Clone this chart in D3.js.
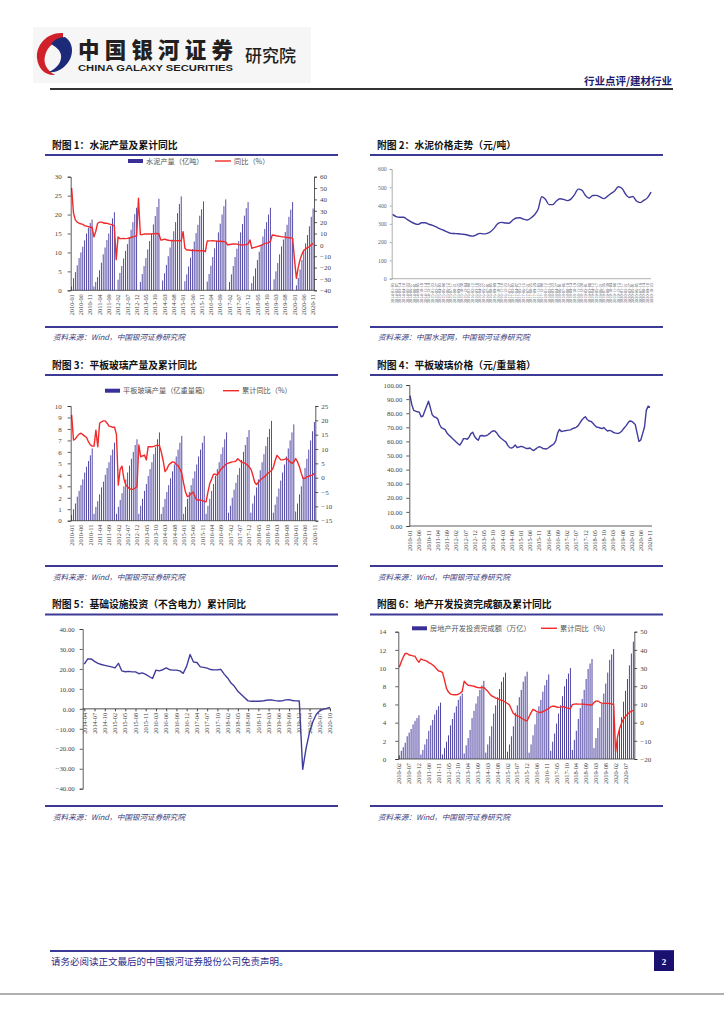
<!DOCTYPE html>
<html><head><meta charset="utf-8">
<script src="https://cdn.jsdelivr.net/npm/d3@7"></script>
<style>body{margin:0;background:#fff}svg{display:block}</style>
</head><body>
<svg id="page" width="724" height="1024"></svg>
<script>
// ---------------- DATA ----------------
const monthCodes = ["01","02","03","04","05","06","07","08","09","10","11","12"];
const monthCodesNoJan = ["02","03","04","05","06","07","08","09","10","11","12"];
const years1020 = [2010,2011,2012,2013,2014,2015,2016,2017,2018,2019,2020];
const years1420 = [2014,2015,2016,2017,2018,2019,2020];

// Chart 1: cement cumulative production (亿吨) & cumulative YoY (%), 2010-01 .. 2020-11
const cementProd = [
 1.0,3.2,4.8,6.6,8.5,10.0,11.5,13.2,15.0,16.5,17.8,18.7,
 1.0,2.2,3.5,5.3,7.3,9.5,11.3,13.3,15.0,17.0,19.0,20.6,
 null,2.8,4.6,6.4,8.4,10.4,12.2,14.0,16.0,18.0,20.1,21.8,
 null,2.2,4.3,6.4,8.5,10.8,13.0,15.0,17.4,19.6,22.0,24.2,
 null,2.6,4.5,6.7,9.0,11.3,13.4,15.6,18.0,20.4,22.8,24.8,
 null,2.4,4.2,6.3,8.6,10.9,12.9,15.1,17.3,19.7,21.4,23.5,
 null,2.3,4.3,6.5,8.8,11.1,13.1,15.3,17.6,20.0,22.2,24.0,
 null,2.2,4.2,6.4,8.8,11.0,13.0,15.3,17.5,19.7,21.7,23.3,
 null,1.9,3.7,5.8,8.0,10.2,12.1,14.2,16.2,18.0,20.0,21.8,
 null,2.9,5.0,7.2,9.5,11.6,13.4,15.4,17.3,19.4,21.3,23.3,
 null,1.3,3.3,5.5,8.0,10.5,12.4,14.6,16.9,19.4,21.6
];
const cementYoY = [
 50,28,22,20,19,18.5,18,17,16.5,16,15.5,15.5,
 7,12,19,20,20,19.5,19,19,18.5,18,17.5,16.6,
 -13,7,5.5,5.5,5.7,5.5,5.7,6,6.5,7,7.5,8,
 41,9,9,9.5,9.5,9.6,9.6,9.7,9.8,9.9,10,9.6,
 4.3,4.5,5,4.5,4,3.8,3.7,3.5,3.7,3.7,3.6,3.6,
 11.6,-3,-4.5,-4.5,-4.8,-5,-5,-5,-5.2,-5.2,-5.2,-5,
 -6,3.4,3.5,3.5,3.6,3.5,3.2,3.2,3.2,3.0,2.9,2.5,
 -0.1,0.3,0.5,0.7,0.8,0.6,0.2,0,-0.1,0,0.2,0.8,
 4.3,-3,-2.5,-2,-1.5,-1,-0.5,0.3,1.3,1.5,2,3,
 8.7,8.5,8,7.8,7.5,7.2,7,6.8,6.5,6.3,6.1,5.7,
 -13,-29.4,-20,-13,-8.3,-4.8,-3.6,-2.5,-1.7,0,1.3
];

// Chart 2: cement price (元/吨)
const priceDates = ["2014-01-03","2014-02-07","2014-03-14","2014-04-18","2014-05-23","2014-06-27","2014-08-01","2014-09-05","2014-10-10","2014-11-14","2014-12-19",
 "2015-01-23","2015-02-27","2015-04-03","2015-05-08","2015-06-12","2015-07-17","2015-08-21","2015-09-25","2015-10-30","2015-12-04",
 "2016-01-08","2016-02-12","2016-03-18","2016-04-22","2016-05-27","2016-07-01","2016-08-05","2016-09-09","2016-10-14","2016-11-18","2016-12-23",
 "2017-01-27","2017-03-03","2017-04-07","2017-05-12","2017-06-16","2017-07-21","2017-08-25","2017-09-29","2017-11-03","2017-12-08",
 "2018-01-12","2018-02-16","2018-03-23","2018-04-27","2018-06-01","2018-07-06","2018-08-10","2018-09-14","2018-10-19","2018-11-23","2018-12-28",
 "2019-02-01","2019-03-08","2019-04-12","2019-05-17","2019-06-21","2019-07-26","2019-08-30","2019-10-04","2019-11-08","2019-12-13",
 "2020-01-17","2020-02-21","2020-03-27","2020-05-01","2020-06-05","2020-07-10","2020-08-14","2020-09-18","2020-10-23"];
const cementPrice = [352,340,336,336,325,312,302,297,306,306,298,
 292,283,273,265,256,248,247,246,244,242,
 236,233,240,248,245,248,258,278,303,308,305,
 303,320,332,333,326,321,332,350,380,448,
 435,405,405,425,437,434,427,435,460,490,485,
 455,440,455,456,448,438,450,466,480,503,
 495,463,444,450,425,416,428,442,474];

// Chart 3: flat glass cumulative production (亿重量箱) & cumulative YoY (%), 2010-01 .. 2020-11
const glassProd = [
 0.5,1.0,1.5,2.1,2.6,3.1,3.6,4.2,4.7,5.2,5.7,6.3,
 0.6,1.2,1.7,2.3,2.9,3.4,4.0,4.6,5.1,5.7,6.2,6.8,
 0.6,1.2,1.8,2.4,3.0,3.6,4.2,4.8,5.4,6.0,6.6,7.1,
 0.6,1.3,1.9,2.6,3.2,3.9,4.5,5.1,5.8,6.4,7.1,7.7,
 0.6,1.2,1.9,2.5,3.1,3.7,4.3,4.9,5.6,6.2,6.8,7.4,
 0.6,1.2,1.9,2.5,3.1,3.7,4.3,4.9,5.6,6.2,6.8,7.4,
 0.6,1.3,1.9,2.6,3.2,3.9,4.5,5.1,5.8,6.4,7.1,7.7,
 0.7,1.3,2.0,2.7,3.3,4.0,4.6,5.3,6.0,6.6,7.3,7.9,
 0.7,1.5,2.2,2.9,3.6,4.4,5.1,5.8,6.5,7.3,8.0,8.7,
 0.7,1.4,2.1,2.8,3.5,4.2,4.9,5.6,6.3,7.0,7.7,8.4,
 0.8,1.5,2.3,3.0,3.8,4.6,5.4,6.2,7.0,7.8,8.6
];
const glassYoY = [
 21.9,13.1,13.5,14.5,15.2,15.5,15,14.5,14,12.5,11.5,11,
 11,16.6,10.8,19,19.5,19.8,19.8,19,18,17.8,17.6,17.6,
 15,-2.6,3,4,-0.5,-2.5,-3.3,-3.8,-4.1,-4,-3.6,-3.1,
 11.4,7.3,7.6,7.9,6.2,10.8,10.8,10.8,10.9,11.2,11.2,11.2,
 9,6,2.1,3.0,4.4,5,5.5,5.4,4.6,4.2,3,1.5,
 -2,-5,-6.6,-6.3,-5.5,-5,-6.5,-7.8,-7.8,-7.8,-8,-8.3,
 -8.4,-5,-2,-0.5,1.2,1.2,0.9,2,3,3.6,4.2,4.9,
 5.1,5.3,5.5,5.6,5.8,6.6,6,5.4,5.2,5,4.5,3.8,
 3,1,-1.5,-2.4,-1.6,-0.8,-0.3,0.2,0.8,1.5,2,2.5,
 3.5,6,7.8,7,6.2,6.2,6.4,6.7,6.2,5.5,5,5.5,
 6.7,5.5,3.8,1.5,-0.3,-0.2,0.3,0.5,0.8,0.9,1.5
];

// Chart 4: flat glass price (元/重量箱), 2010-01 .. 2020-11
const glassPrice = [
 92.4,86,82,81.5,81,80.8,77.5,78,81.5,85,88.5,84,
 79,77.5,77,76,72,69.7,69,68.3,66,64.5,63.4,62,
 60.8,59.5,58.3,57.4,59.5,62,62,61.5,63,65.5,66.5,63.5,
 61.8,60.8,64,64.2,63.8,64,64.5,65.5,66.7,67.4,67.4,66,
 64,62.6,61.5,60.5,59.5,57,55.6,55.3,56,57.5,55.6,56,
 56.5,56.3,55.6,55,55,55.3,54.2,53.5,54.5,55.5,56.3,55.8,
 55,54.8,54.6,55.5,56.5,57.4,58.3,60.5,66,68.5,67,67.3,
 67.6,67.8,68,68.2,69,69.5,70,71,73,75,76.5,77.5,
 75.5,74.5,74.2,73,71.5,70.2,70,69.5,69,69.8,68.5,67.4,
 67.8,67.5,66.5,66,65.7,65.7,66.5,67.8,69.5,71,73,74.5,
 74.3,73.3,72,66,60,61,65.5,70,82,85,84.2
];

// Chart 5: infrastructure investment (ex power) cumulative YoY (%), 2014-04 .. 2020-10 (no January)
const infraYoY = [
 22.4,25,25,23.8,22.8,22.2,21.8,21.4,21,
 20.5,22.8,19,18.6,18.8,18.5,18.5,17.6,18,17.3,16.2,
 15.2,19.4,19,19.6,20.5,19.6,19.4,19.4,19,17.8,21.4,
 27.2,23.5,23.2,21,20.8,20.4,19.7,19.5,19.6,19.8,17.4,
 15.5,12.9,11.3,8.8,7.2,5.6,4.0,3.8,3.8,3.8,3.9,
 4.2,4.5,4.4,4.1,3.9,4.0,4.5,4.6,4.2,4.0,3.9,
 -30.3,-19.7,-11.8,-6.3,-2.7,-1.0,-0.3,0.2,0.7
];

// Chart 6: real estate investment cumulative (万亿) & cumulative YoY (%), 2010-02 .. 2020-11 (no January)
const reInvest = [
 0.4,0.9,1.3,1.8,2.5,2.9,3.3,3.8,4.2,4.5,4.8,
 0.5,1.0,1.6,2.2,3.1,3.7,4.3,4.9,5.4,5.8,6.2,
 0.5,1.2,1.9,2.6,3.7,4.4,5.1,5.8,6.5,6.9,7.2,
 0.6,1.5,2.3,3.2,4.5,5.3,6.1,6.9,7.6,8.1,8.6,
 0.7,1.6,2.5,3.6,5.0,5.9,6.8,7.7,8.5,9.0,9.5,
 0.8,1.6,2.5,3.6,5.1,5.9,6.8,7.6,8.5,9.1,9.6,
 0.7,1.6,2.6,3.8,5.1,5.8,6.5,7.4,8.1,8.7,9.3,
 0.9,1.9,2.8,3.9,5.0,5.9,6.9,8.0,8.8,9.4,10.0,
 1.0,2.1,3.1,4.4,5.6,6.6,7.6,8.8,9.9,10.5,11.0,
 1.2,2.3,3.4,4.6,6.1,7.2,8.3,9.5,10.9,11.5,12.1,
 1.0,2.2,3.3,4.6,6.3,7.5,8.8,10.3,11.6,12.9
];
const reYoY = [
 30.4,33.5,36,38.1,38,37.2,37,36.7,36.5,34.5,33.2,
 35,34.5,34.2,33.8,33,32.5,31.7,30.8,29.5,28.4,28.2,
 27.5,23.4,18.8,16.8,15.7,15.4,15.3,15.3,15.6,16.3,17.2,
 22.8,21.5,20.5,20.4,20.2,20.0,19.6,19.3,19.2,19.3,19.4,
 18.2,17.2,15.8,14.7,14.1,13.5,13.2,12.6,12.4,11.9,11.2,
 10.5,9.8,7.4,5.0,4.3,3.7,3.3,2.6,2.0,1.3,1.0,
 3.2,5.5,7.3,6.7,6.0,5.6,5.7,6.0,6.6,7.2,7.8,
 8.7,9.1,9.0,8.6,8.4,8.5,8.8,8.6,8.1,7.9,7.6,
 9.9,10.2,10.3,10.2,10.2,10.2,10.1,9.9,9.9,9.7,9.7,
 11.0,11.8,11.9,11.2,10.7,10.6,10.6,10.6,10.5,10.3,9.9,
 -16.3,-7.7,-3.3,-0.3,1.9,3.4,4.6,5.6,6.3,6.8
];

// tick values
const ticks1L = [0,5,10,15,20,25,30];
const ticks1R = [-40,-30,-20,-10,0,10,20,30,40,50,60];
const ticks2 = [0,100,200,300,400,500,600];
const ticks3L = [0,1,2,3,4,5,6,7,8,9,10];
const ticks3R = [-15,-10,-5,0,5,10,15,20,25];
const ticks4 = [0,10,20,30,40,50,60,70,80,90,100];
const ticks5 = [-40,-30,-20,-10,0,10,20,30,40];
const ticks6L = [0,2,4,6,8,10,12,14];
const ticks6R = [-20,-10,0,10,20,30,40,50];

// categories
const cats1 = years1020.flatMap(y => monthCodes.map(m => `${y}-${m}`)).slice(0,131);
const cats6 = years1020.flatMap(y => monthCodesNoJan.map(m => `${y}-${m}`)).slice(0,120);
const cats5 = years1420.flatMap(y => monthCodesNoJan.map(m => `${y}-${m}`)).slice(2,75);

// ---------------- DRAW ----------------
const svg = d3.select('#page');
const SERIF = '"Liberation Serif","DejaVu Serif",serif';
const CJK = '"Noto Sans CJK SC","Noto Sans",sans-serif';
const NAVY = '#3d3a96';
const BAR = '#3a2f98';
const RED = '#f22a2a';
const LINEC = '#403c9e';

svg.append('rect').attr('width',724).attr('height',1024).attr('fill','#fff');

// header
svg.append('rect').attr('x',33).attr('y',27).attr('width',278).attr('height',56).attr('fill','#f6f6f6');
svg.append('path').attr('d','M63,33 C47,32 36,45 37,58 C38,69 46,76 55,75 C47,71 43,63 45,56 C47,47 54,41 63,39 Z').attr('fill','#d0202a');
svg.append('path').attr('d','M65,37 C73,42 74,53 69,61 C64,69 56,73 49,72 C57,68 62,62 61,55 C60,49 54,46 51,44 C54,40 59,37 65,37 Z').attr('fill','#1d2a7a');
svg.append('text').attr('x',78).attr('y',58).attr('font-family',CJK).attr('font-weight',900).attr('font-size',21.5)
  .attr('fill','#231f20').attr('textLength',155).text('中国银河证券');
svg.append('text').attr('x',78).attr('y',70.5).attr('font-family','"Liberation Sans",Arial,sans-serif').attr('font-weight',700)
  .attr('font-size',8.6).attr('fill','#231f20').attr('textLength',155).attr('lengthAdjust','spacingAndGlyphs').text('CHINA GALAXY SECURITIES');
svg.append('text').attr('x',245).attr('y',62).attr('font-family',CJK).attr('font-weight',500).attr('font-size',17)
  .attr('fill','#231f20').text('研究院');
svg.append('text').attr('x',672).attr('y',84.5).attr('text-anchor','end').attr('font-family',CJK).attr('font-weight',700)
  .attr('font-size',10.5).attr('fill','#1c1c6e').text('行业点评/建材行业');
svg.append('line').attr('x1',50).attr('x2',673).attr('y1',89).attr('y2',89).attr('stroke','#333').attr('stroke-width',2);

// footer
svg.append('line').attr('x1',50).attr('x2',674).attr('y1',951).attr('y2',951).attr('stroke',NAVY).attr('stroke-width',2);
svg.append('text').attr('x',51).attr('y',965).attr('font-family',CJK).attr('font-size',9.5).attr('fill','#2a2a8a')
  .text('请务必阅读正文最后的中国银河证券股份公司免责声明。');
svg.append('rect').attr('x',654).attr('y',951).attr('width',20).attr('height',20).attr('fill','#1a1070');
svg.append('text').attr('x',664).attr('y',965).attr('text-anchor','middle').attr('font-family',SERIF).attr('font-weight',700)
  .attr('font-size',9).attr('fill','#fff').text('2');
svg.append('line').attr('x1',0).attr('x2',724).attr('y1',994).attr('y2',994).attr('stroke','#b0b0b0').attr('stroke-width',2);

// panel frames
function frame(x0, x1, titleY, underY, ruleY, srcY, title, src){
  svg.append('text').attr('x',x0+7).attr('y',titleY).attr('font-family',CJK).attr('font-weight',700)
    .attr('font-size',9.8).attr('fill','#111').text(title);
  svg.append('line').attr('x1',x0).attr('x2',x1).attr('y1',underY).attr('y2',underY).attr('stroke',NAVY).attr('stroke-width',2);
  svg.append('line').attr('x1',x0).attr('x2',x1).attr('y1',ruleY).attr('y2',ruleY).attr('stroke',NAVY).attr('stroke-width',2);
  svg.append('text').attr('x',x0+8).attr('y',srcY).attr('font-family',CJK).attr('font-style','italic')
    .attr('font-size',7.6).attr('fill','#3a3a7a').text(src);
}
frame(45,338,148.5,155,327,340,'附图 1：水泥产量及累计同比','资料来源：Wind，中国银河证券研究院');
frame(370,663,148.5,155,327,340,'附图 2：水泥价格走势（元/吨）','资料来源：中国水泥网，中国银河证券研究院');
frame(45,338,369,375,566,580,'附图 3：平板玻璃产量及累计同比','资料来源：Wind，中国银河证券研究院');
frame(370,663,369,375,566,580,'附图 4：平板玻璃价格（元/重量箱）','资料来源：Wind，中国银河证券研究院');
frame(45,338,608,614.5,806,820,'附图 5：基础设施投资（不含电力）累计同比','资料来源：Wind，中国银河证券研究院');
frame(370,663,608,614.5,806,820,'附图 6：地产开发投资完成额及累计同比','资料来源：Wind，中国银河证券研究院');

function styleAxis(g, fs, axisCol, textCol){
  g.attr('font-size',fs).attr('font-family',SERIF);
  g.selectAll('text').attr('fill',textCol||'#444');
  g.selectAll('path.domain, .tick line').attr('stroke',axisCol).attr('stroke-width',0.8);
}
function xLabels(xpos, cats, idxs, y, fs, col){
  const g = svg.append('g').attr('font-family',SERIF).attr('font-size',fs).attr('fill',col||'#444');
  idxs.forEach(i => {
    g.append('text').attr('transform',`translate(${xpos(i)+fs*0.35},${y}) rotate(-90)`)
      .attr('text-anchor','end').text(cats[i]);
  });
}
function legend(y, barX, barText, lineX, lineText){
  svg.append('rect').attr('x',barX).attr('y',y-2).attr('width',15).attr('height',4).attr('fill',BAR);
  svg.append('text').attr('x',barX+18).attr('y',y+2.6).attr('font-family',CJK).attr('font-size',7.2).attr('fill','#555').text(barText);
  svg.append('line').attr('x1',lineX).attr('x2',lineX+16).attr('y1',y).attr('y2',y).attr('stroke',RED).attr('stroke-width',1.4);
  svg.append('text').attr('x',lineX+19).attr('y',y+2.6).attr('font-family',CJK).attr('font-size',7.2).attr('fill','#555').text(lineText);
}

// combo chart (bars + line, dual axis)
function combo(cfg){
  const x = d3.scaleBand().domain(cfg.cats).range([cfg.left, cfg.right]).padding(0);
  const bw = x.bandwidth();
  const cx = i => x(cfg.cats[i]) + bw/2;
  const yL = d3.scaleLinear().domain(cfg.domL).range([cfg.bottom, cfg.top]);
  const yR = d3.scaleLinear().domain(cfg.domR).range([cfg.bottom, cfg.top]);
  const g = svg.append('g');
  g.selectAll('rect.bar').data(cfg.bars.map((v,i)=>({v,i})).filter(d=>d.v!=null)).join('rect')
    .attr('x', d => cx(d.i) - cfg.barW/2).attr('width', cfg.barW)
    .attr('y', d => yL(d.v)).attr('height', d => cfg.bottom - yL(d.v)).attr('fill', BAR);
  const line = d3.line().defined(d=>d!=null).x((d,i)=>cx(i)).y(d=>yR(d));
  g.append('path').attr('d', line(cfg.line)).attr('fill','none').attr('stroke',RED).attr('stroke-width',1.4).attr('stroke-linejoin','round');
  const ga = svg.append('g').attr('transform',`translate(${cfg.left},0)`).call(d3.axisLeft(yL).tickValues(cfg.ticksL).tickSize(3).tickPadding(cfg.padL));
  styleAxis(ga, 7, '#333');
  const gr = svg.append('g').attr('transform',`translate(${cfg.right},0)`).call(d3.axisRight(yR).tickValues(cfg.ticksR).tickSize(3).tickPadding(3));
  styleAxis(gr, 7, '#333');
  svg.append('line').attr('x1',cfg.left).attr('x2',cfg.right).attr('y1',cfg.bottom).attr('y2',cfg.bottom).attr('stroke','#333').attr('stroke-width',0.8);
  xLabels(cx, cfg.cats, cfg.cats.map((c,i)=>i).filter(i=>i%cfg.labelStep===0), cfg.bottom+4, 6.3);
}

// Chart 1
legend(161, 128, '水泥产量（亿吨）', 215, '同比（%）');
combo({cats:cats1, bars:cementProd, line:cementYoY, left:70.7, right:314, top:176.7, bottom:290.3,
  domL:[0,30], domR:[-40,60], ticksL:ticks1L, ticksR:ticks1R, barW:0.85, labelStep:5, padL:6});

// Chart 3
legend(390.7, 105, '平板玻璃产量（亿重量箱）', 223, '累计同比（%）');
combo({cats:cats1, bars:glassProd, line:glassYoY, left:70.7, right:315.3, top:406, bottom:520.7,
  domL:[0,10], domR:[-15,25], ticksL:ticks3L, ticksR:ticks3R, barW:0.85, labelStep:5, padL:6});

// Chart 6
legend(628.3, 412, '房地产开发投资完成额（万亿）', 541, '累计同比（%）');
combo({cats:cats6, bars:reInvest, line:reYoY, left:398.3, right:634.3, top:631.7, bottom:759,
  domL:[0,14], domR:[-20,50], ticksL:ticks6L, ticksR:ticks6R, barW:0.9, labelStep:5, padL:9});

// Chart 2 : cement price line
(function(){
  const x = d3.scalePoint().domain(priceDates).range([392.5, 651]);
  const y = d3.scaleLinear().domain([0,600]).range([278.7,169]);
  svg.append('path').attr('d', d3.line().curve(d3.curveMonotoneX).x((d,i)=>x(priceDates[i])).y(d=>y(d))(cementPrice))
    .attr('fill','none').attr('stroke',LINEC).attr('stroke-width',1.4);
  const ga = svg.append('g').attr('transform','translate(391.7,0)').call(d3.axisLeft(y).tickValues(ticks2).tickSize(2).tickPadding(3));
  styleAxis(ga, 5.8, '#999', '#666');
  svg.append('line').attr('x1',391.7).attr('x2',651).attr('y1',278.7).attr('y2',278.7).attr('stroke','#999').attr('stroke-width',0.8);
  xLabels(i=>x(priceDates[i]), priceDates, priceDates.map((d,i)=>i), 283, 4.3, '#556');
})();

// Chart 4 : glass price line
(function(){
  const x = d3.scalePoint().domain(cats1).range([410, 650]);
  const y = d3.scaleLinear().domain([0,100]).range([526,385]);
  svg.append('path').attr('d', d3.line().x((d,i)=>x(cats1[i])).y(d=>y(d))(glassPrice))
    .attr('fill','none').attr('stroke',LINEC).attr('stroke-width',1.4).attr('stroke-linejoin','round');
  const ga = svg.append('g').attr('transform','translate(409.3,0)').call(d3.axisLeft(y).tickValues(ticks4).tickFormat(d3.format('.2f')).tickSize(3).tickPadding(4));
  styleAxis(ga, 6.8, '#333');
  svg.append('line').attr('x1',409.3).attr('x2',652).attr('y1',526).attr('y2',526).attr('stroke','#333').attr('stroke-width',0.8);
  xLabels(i=>x(cats1[i]), cats1, cats1.map((c,i)=>i).filter(i=>i%5===0), 530, 6.3);
})();

// Chart 5 : infrastructure YoY
(function(){
  const x = d3.scalePoint().domain(cats5).range([84.3, 330]);
  const y = d3.scaleLinear().domain([-40,40]).range([788.7,629]);
  const ga = svg.append('g').attr('transform','translate(82.7,0)').call(d3.axisLeft(y).tickValues(ticks5).tickFormat(d3.format('.2f')).tickSize(3).tickPadding(5));
  styleAxis(ga, 6.8, '#333');
  const gz = svg.append('g').attr('transform',`translate(0,${y(0)})`).call(d3.axisBottom(x).tickValues(cats5.filter((c,i)=>i%3===0)).tickSize(2.5).tickFormat(''));
  gz.select('path.domain').attr('d',`M82.7,0H331`);
  styleAxis(gz, 6, '#222');
  svg.append('path').attr('d', d3.line().x((d,i)=>x(cats5[i])).y(d=>y(d))(infraYoY))
    .attr('fill','none').attr('stroke',LINEC).attr('stroke-width',1.4).attr('stroke-linejoin','round');
  xLabels(i=>x(cats5[i]), cats5, cats5.map((c,i)=>i).filter(i=>i%3===0), y(0)+4, 6.3);
})();
</script>
</body></html>
